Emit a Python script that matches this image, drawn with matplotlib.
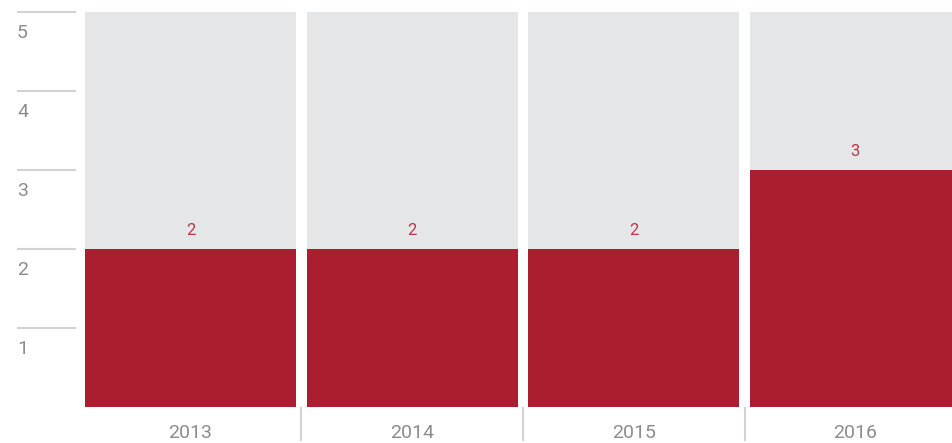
import matplotlib
matplotlib.use("Agg")
import matplotlib.pyplot as plt
from matplotlib.transforms import blended_transform_factory

categories = ["2013", "2014", "2015", "2016"]
values = [2, 2, 2, 3]
max_value = 5
yticks = [1, 2, 3, 4, 5]

RED = "#ab1e2f"
GREY = "#e5e6e8"
TXT = "#8c8c8c"
LINE = "#d2d2d2"

W, H = 952, 443
fig = plt.figure(figsize=(W / 100, H / 100), dpi=100)
ax = fig.add_axes([0, 36 / H, 1, 395 / H])
period = 221.6
x0 = 190.5
ax.set_xlim(-x0 / period, (W - x0) / period)
ax.set_ylim(0, max_value)
ax.axis("off")

font = dict(family=["Roboto", "DejaVu Sans"], fontweight="normal")
xs = list(range(len(categories)))
bw = 211 / period
ax.bar(xs, [max_value] * len(xs), width=bw, color=GREY, zorder=1)
ax.bar(xs, values, width=bw, color=RED, zorder=2)

for x, v in zip(xs, values):
    ax.text(x, v + 0.23, str(v), ha="center", va="center", color="#c23446", fontsize=12, **font)

# y ticks
tr = blended_transform_factory(fig.transFigure, ax.transData)
for t in yticks:
    ax.plot([17 / W, 76 / W], [t, t], transform=tr, color=LINE, lw=1.5, clip_on=False, solid_capstyle="butt")
    ax.text(17 / W, t - 0.27, str(t), transform=tr, ha="left", va="center", color=TXT, fontsize=14, **font)

# x labels and separators
for x, c in zip(xs, categories):
    fig.text((x0 + x * period) / W, 1 - 433 / H, c, ha="center", va="center", color=TXT, fontsize=14, **font)
for i in range(1, len(categories)):
    px = x0 + (i - 0.5) * period
    fig.add_artist(plt.Line2D([px / W, px / W], [1 - 408 / H, 1 - 440 / H], color=LINE, lw=1.5))

fig.savefig("out.png", dpi=100)
